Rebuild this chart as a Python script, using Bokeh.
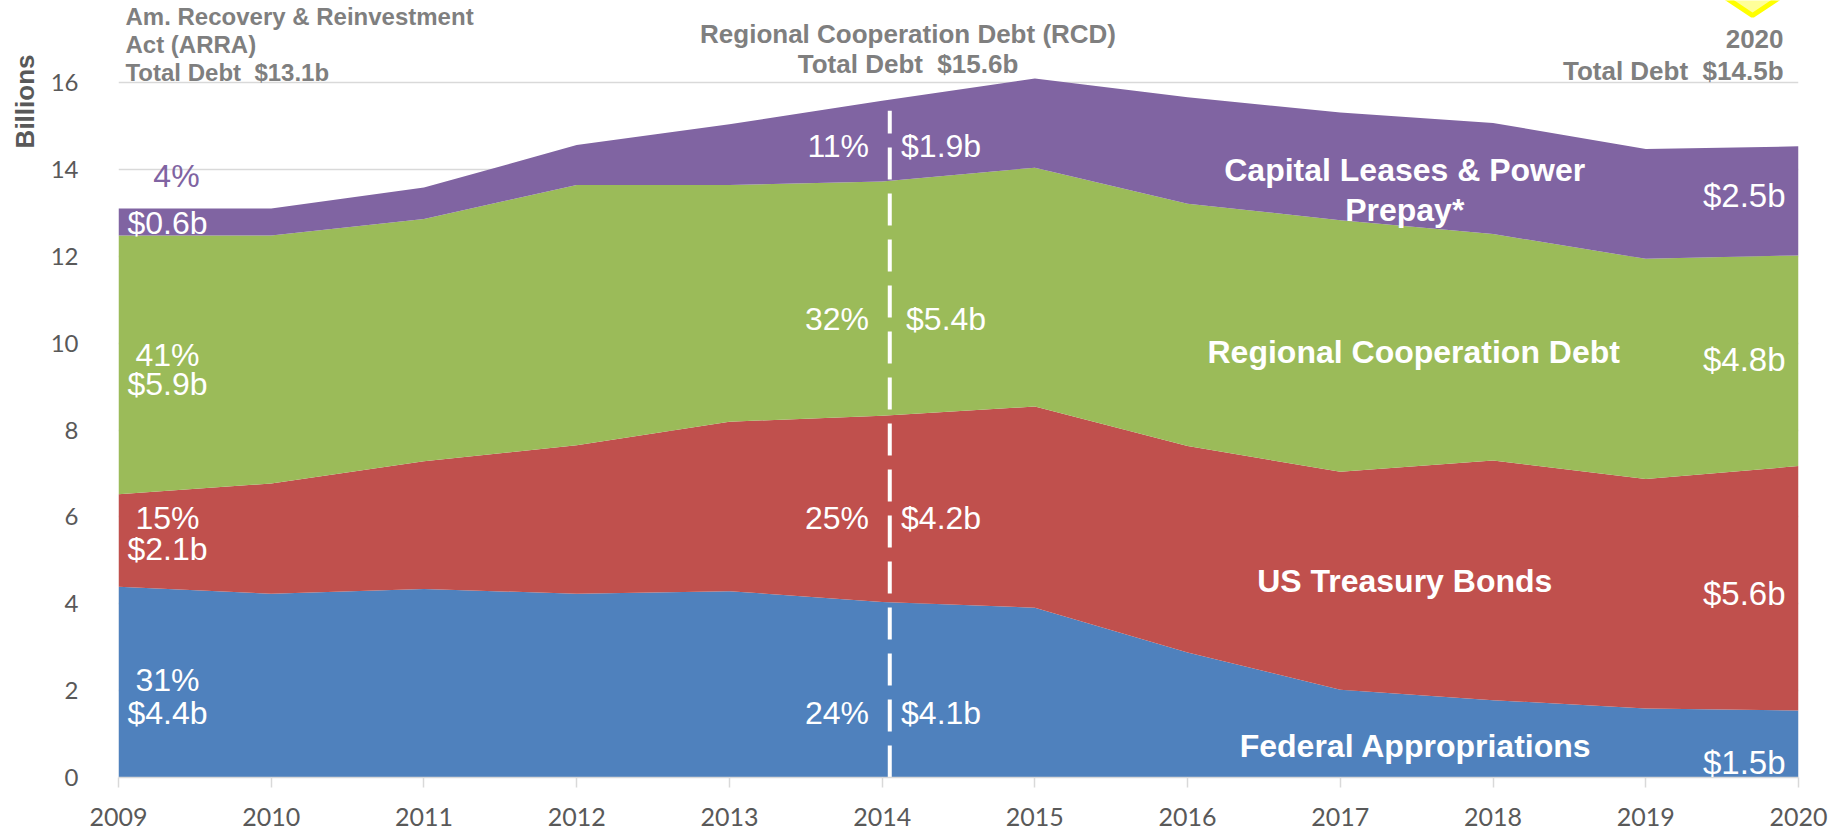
import math
from bokeh.plotting import figure
from bokeh.models import ColumnDataSource, FixedTicker, Label, Range1d, Title
from bokeh.embed import file_html
from bokeh.resources import INLINE

# ---------------- data (billions of dollars) ----------------
years = [2009, 2010, 2011, 2012, 2013, 2014, 2015, 2016, 2017, 2018, 2019, 2020]
federal = [4.39, 4.23, 4.34, 4.23, 4.29, 4.04, 3.91, 2.88, 2.02, 1.78, 1.59, 1.54]
treasury = [2.13, 2.54, 2.94, 3.42, 3.90, 4.29, 4.63, 4.75, 5.02, 5.52, 5.28, 5.63]
rcd = [5.96, 5.71, 5.58, 5.99, 5.45, 5.39, 5.50, 5.58, 5.79, 5.21, 5.07, 4.85]
capital = [0.62, 0.62, 0.72, 0.92, 1.40, 1.86, 2.05, 2.45, 2.48, 2.56, 2.53, 2.51]

y_ticks = [0, 2, 4, 6, 8, 10, 12, 14, 16]

series_names = ["Federal Appropriations", "US Treasury Bonds",
                "Regional Cooperation Debt", "Capital Leases & Power", "Prepay*"]
pct_2009 = ["31%", "15%", "41%", "4%"]
amt_2009 = ["$4.4b", "$2.1b", "$5.9b", "$0.6b"]
pct_2014 = ["24%", "25%", "32%", "11%"]
amt_2014 = ["$4.1b", "$4.2b", "$5.4b", "$1.9b"]
amt_2020 = ["$1.5b", "$5.6b", "$4.8b", "$2.5b"]
header_left = ["Am. Recovery & Reinvestment", "Act (ARRA)", "Total Debt \u00a0$13.1b"]
header_mid = ["Regional Cooperation Debt (RCD)", "Total Debt \u00a0$15.6b"]
header_right = ["2020", "Total Debt \u00a0$14.5b"]
divider_year = 2014

# ---------------- layout helpers (page pixels) ----------------
W, H = 1835, 832
X0_PX, X1_PX = 117, 1798          # px of first / last year
Y0_PX, Y16_PX = 777, 82           # px of 0 and 16
PPY = (X1_PX - X0_PX) / (years[-1] - years[0])
PPU = (Y0_PX - Y16_PX) / 16.0
y_top = Y0_PX / PPU               # frame top at y = 0


def dx(px):
    return years[0] + (px - X0_PX) / PPY


def dy(py):
    return (Y0_PX - py) / PPU


colors = ["#4f81bd", "#c0504d", "#9bbb59", "#8064a2"]
SANS = "Liberation Sans"
TICKF = "Lato"

p = figure(width=W, height=H, x_range=Range1d(years[0], years[-1]),
           y_range=Range1d(0, y_top), output_backend="svg", toolbar_location=None,
           min_border_left=X0_PX, min_border_right=W - X1_PX,
           min_border_top=0, min_border_bottom=H - Y0_PX)
p.outline_line_color = None
p.background_fill_color = "white"

src = ColumnDataSource(dict(year=years, federal=federal, treasury=treasury,
                            rcd=rcd, capital=capital))
p.varea_stack(stackers=["federal", "treasury", "rcd", "capital"], x="year",
              color=colors, source=src)

# dashed divider at 2014
idx = years.index(divider_year)
total_div = federal[idx] + treasury[idx] + rcd[idx] + capital[idx]
p.segment(x0=[divider_year + 0.05], y0=[0], x1=[divider_year + 0.05], y1=[total_div - 0.23],
          line_color="white", line_width=4, line_dash="32 14")

# yellow marker at top right (partially visible)
p.scatter(x=[dx(1752)], y=[dy(-15)], marker="diamond", angle=math.pi / 2, size=90,
          fill_color="#ffff99", line_color="#ffff00", line_width=5)

# axes
p.xaxis.ticker = FixedTicker(ticks=years)
p.xaxis.axis_line_color = "#d9d9d9"
p.xaxis.axis_line_width = 1.5
p.xaxis.major_tick_line_color = "#d9d9d9"
p.xaxis.major_tick_line_width = 1.5
p.xaxis.major_tick_out = 10
p.xaxis.major_tick_in = 0
p.xaxis.minor_tick_line_color = None
p.xaxis.major_label_standoff = 20
p.xaxis.major_label_text_font = TICKF
p.xaxis.major_label_text_font_size = "25px"
p.xaxis.major_label_text_color = "#595959"

p.yaxis.ticker = FixedTicker(ticks=y_ticks)
p.yaxis.axis_line_color = None
p.yaxis.major_tick_line_color = None
p.yaxis.minor_tick_line_color = None
p.yaxis.major_label_standoff = 34
p.yaxis.major_label_text_font = TICKF
p.yaxis.major_label_text_font_size = "24px"
p.yaxis.major_label_text_color = "#595959"

p.xgrid.visible = False
p.ygrid.ticker = FixedTicker(ticks=y_ticks)
p.ygrid.grid_line_color = "#d9d9d9"
p.ygrid.grid_line_width = 1.5

# y axis title (placed near the top, like the reference)
p.add_layout(Title(text="Billions", align="right", offset=54, standoff=15,
                   text_font=SANS, text_font_size="26px", text_font_style="bold",
                   text_color="#595959"), "left")


def lab(text, px, py, size="32px", align="center", color="white", style="normal",
        font=SANS):
    p.add_layout(Label(x=dx(px), y=dy(py), text=text, text_align=align,
                       text_baseline="middle", text_font=font, text_font_size=size,
                       text_font_style=style, text_color=color))


# headers
GRAY = "#7f7f7f"
for t, py in zip(header_left, [16, 44, 72]):
    lab(t, 124, py, size="24px", align="left", color=GRAY, style="bold")
for t, py in zip(header_mid, [33, 63]):
    lab(t, 907, py, size="26px", align="center", color=GRAY, style="bold")
for t, py in zip(header_right, [38, 70]):
    lab(t, 1783, py, size="26px", align="right", color=GRAY, style="bold")

# 2009 labels
ys_pct09 = [679, 517, 354, 175]
ys_amt09 = [712, 548, 383, 222]
for i in range(4):
    lab(pct_2009[i], 175 if i == 3 else 166, ys_pct09[i],
        color=colors[3] if i == 3 else "white")
    lab(amt_2009[i], 166, ys_amt09[i])

# 2014 labels
ys14 = [712, 517, 318, 145]
for i in range(4):
    lab(pct_2014[i], 868, ys14[i], align="right")
    lab(amt_2014[i], 905 if i == 2 else 900, ys14[i], align="left")

# 2020 labels
ys20 = [762, 593, 359, 195]
for i in range(4):
    lab(amt_2020[i], 1785, ys20[i], size="33px", align="right")

# series names
name_pos = [(1415, 745), (1404, 580), (1413, 351), (1404, 169), (1404, 209)]
for t, (px, py) in zip(series_names, name_pos):
    lab(t, px, py, size="32px", style="bold")

open("out.html", "w").write(file_html(p, INLINE))
